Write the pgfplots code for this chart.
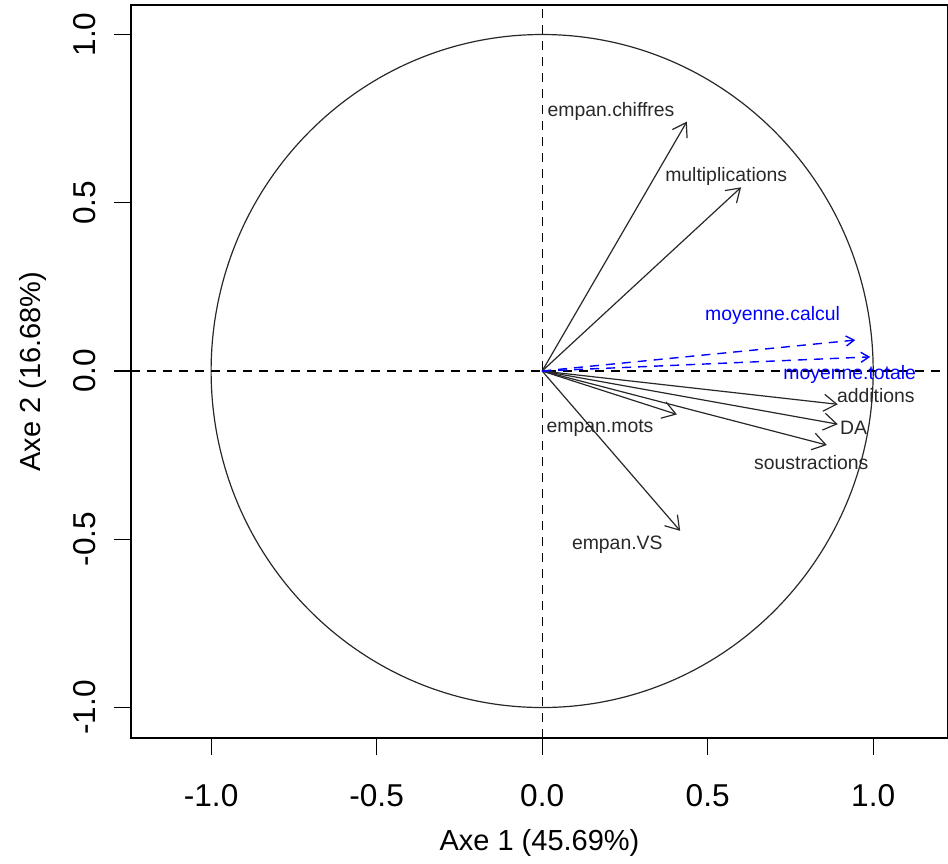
\documentclass[border=0pt]{standalone}
\usepackage{pgfplots}
\pgfplotsset{compat=1.18}
\usepackage{fontspec}
\setmainfont{Liberation Sans}
\usetikzlibrary{arrows.meta}
\definecolor{rblue}{RGB}{0,0,255}
\definecolor{rgray}{RGB}{40,40,40}
\begin{document}
\begin{tikzpicture}
\begin{axis}[
  name=ax,
  scale only axis,
  width=408.5pt, height=366.5pt,
  xmin=-1.242, xmax=1.226,
  ymin=-1.0906, ymax=1.0877,
  axis line style={black, line width=0.6pt},
  tick align=outside,
  xtick pos=bottom, ytick pos=left,
  major tick length=8.5pt,
  tick style={black, line width=0.6pt},
  xtick={-1,-0.5,0,0.5,1},
  xticklabels={-1.0,-0.5,0.0,0.5,1.0},
  ytick={-1,-0.5,0,0.5,1},
  yticklabels={-1.0,-0.5,0.0,0.5,1.0},
  ticklabel style={font=\fontsize{15.8}{18}\selectfont},
  xticklabel shift=11pt,
  yticklabel style={rotate=90, anchor=south},
  yticklabel shift=5.5pt,
  xlabel={Axe 1 (45.69\%)},
  ylabel={Axe 2 (16.68\%)},
  every axis x label/.style={at={(axis description cs:0.5,-0.1432)}, anchor=center, font=\fontsize{14.5}{17}\selectfont},
  every axis y label/.style={at={(axis description cs:-0.12,0.5)}, anchor=center, rotate=90, font=\fontsize{14.5}{17}\selectfont},
  clip=false,
]
% unit circle
\draw[rgray, line width=0.6pt] (axis cs:0,0) ellipse [x radius=1, y radius=1];
% dashed axes
\addplot[black, line width=0.6pt, dash pattern=on 4.5pt off 3.5pt] coordinates {(-1.242,0) (1.226,0)};
\addplot[black, line width=0.6pt, dash pattern=on 4.5pt off 3.5pt] coordinates {(0,-1.0906) (0,1.0877)};
% variable arrows
\pgfplotsset{varr/.style={rgray, line width=0.6pt, -{Straight Barb[length=6.5pt,width=8.5pt]}}}
\addplot[varr] coordinates {(0,0) (0.437,0.741)};
\addplot[varr] coordinates {(0,0) (0.601,0.546)};
\addplot[varr] coordinates {(0,0) (0.893,-0.099)};
\addplot[varr] coordinates {(0,0) (0.893,-0.158)};
\addplot[varr] coordinates {(0,0) (0.860,-0.220)};
\addplot[varr] coordinates {(0,0) (0.407,-0.129)};
\addplot[varr] coordinates {(0,0) (0.417,-0.475)};
% supplementary variables
\pgfplotsset{sarr/.style={rblue, line width=0.7pt, dash pattern=on 4.5pt off 3.5pt, -{Straight Barb[length=4pt,width=5pt]}}}
\addplot[sarr] coordinates {(0,0) (0.946,0.092)};
\addplot[sarr] coordinates {(0,0) (0.991,0.042)};
% labels
\begin{scope}[every node/.style={font=\fontsize{9.7}{11}\selectfont, inner sep=0pt}]
\node[rgray] at (axis cs:0.208,0.770) {empan.chiffres};
\node[rgray] at (axis cs:0.556,0.577) {multiplications};
\node[rblue] at (axis cs:0.696,0.166) {moyenne.calcul};
\node[rblue] at (axis cs:0.929,-0.009) {moyenne.totale};
\node[rgray] at (axis cs:1.008,-0.073) {additions};
\node[rgray] at (axis cs:0.941,-0.170) {DA};
\node[rgray] at (axis cs:0.813,-0.271) {soustractions};
\node[rgray] at (axis cs:0.175,-0.170) {empan.mots};
\node[rgray] at (axis cs:0.227,-0.515) {empan.VS};
\end{scope}
\end{axis}
\pgfresetboundingbox
\path ([shift={(-65.5pt,-62.5pt)}]ax.south west) rectangle ([shift={(0pt,2.5pt)}]ax.north east);
\end{tikzpicture}
\end{document}
